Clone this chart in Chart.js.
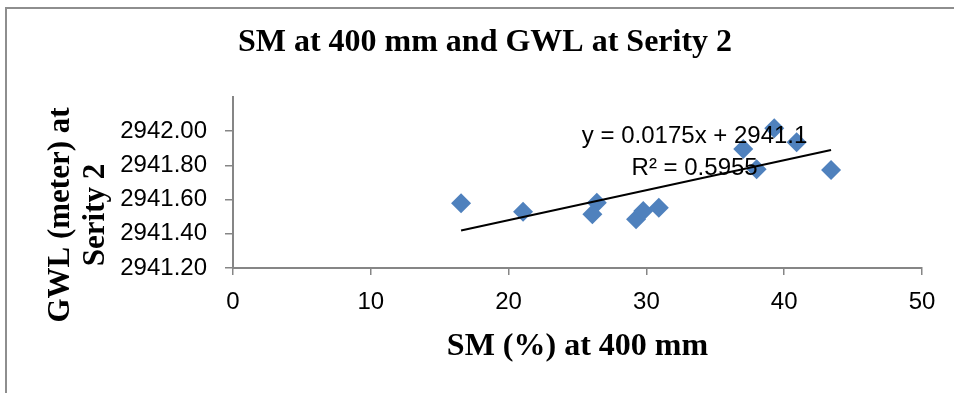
<!DOCTYPE html>
<html>
<head>
<meta charset="utf-8">
<script src="https://cdn.jsdelivr.net/npm/chart.js@4/dist/chart.umd.min.js"></script>
<style>
  html, body { margin: 0; padding: 0; background: #fff; }
  #wrap { width: 954px; height: 393px; }
</style>
</head>
<body>
<div id="wrap"><canvas id="c" width="954" height="393"></canvas></div>
<script>
// Soil moisture (%) at 400 mm depth
const smPercent = [16.55, 21.05, 26.4, 26.08, 29.25, 29.77, 30.9, 37.03, 38.0, 39.28, 40.9, 43.4];
// Groundwater level (m) at Serity 2
const gwlMeter = [2941.578, 2941.529, 2941.582, 2941.514, 2941.485, 2941.534, 2941.553, 2941.896, 2941.777, 2942.017, 2941.935, 2941.773];

// Linear trend fitted to the series
const trendSlope = 0.0175;
const trendIntercept = 2941.13;
const trendR2 = 0.5955;

const xTicks = [0, 10, 20, 30, 40, 50];
const yTicks = [2941.2, 2941.4, 2941.6, 2941.8, 2942.0];

const titleText = 'SM at 400 mm and GWL at Serity 2';
const xTitle = 'SM (%) at 400 mm';
const yTitle = ['GWL (meter) at', 'Serity 2'];

const scatterPoints = smPercent.map((x, i) => ({ x: x, y: gwlMeter[i] }));
const xMin = Math.min(...smPercent), xMax = Math.max(...smPercent);
const trendPoints = [xMin, xMax].map(x => ({ x: x, y: trendSlope * x + trendIntercept }));

const SERIF = '"Liberation Serif", "Times New Roman", serif';
const SANS = '"Liberation Sans", Arial, sans-serif';
const AXIS_GRAY = '#868686';

// Frame, titles and trendline equation drawn around the plot
const decorations = {
  id: 'decorations',
  beforeDraw(chart) {
    const ctx = chart.ctx;
    ctx.save();
    ctx.strokeStyle = '#8e8e8e';
    ctx.lineWidth = 2;
    ctx.beginPath();
    ctx.moveTo(6, 393);
    ctx.lineTo(6, 8);
    ctx.lineTo(954, 8);
    ctx.stroke();
    ctx.restore();
  },
  afterDraw(chart) {
    const ctx = chart.ctx;
    const area = chart.chartArea;
    const xs = chart.scales.x, ys = chart.scales.y;
    ctx.save();
    ctx.fillStyle = '#000';
    ctx.textBaseline = 'alphabetic';
    ctx.textAlign = 'center';

    // chart title
    ctx.font = 'bold 32px ' + SERIF;
    ctx.fillText(titleText, 485, 51);

    // x axis title
    ctx.fillText(xTitle, (area.left + area.right) / 2, 355);

    // y axis title (two rotated lines)
    ctx.font = 'bold 31px ' + SERIF;
    ctx.save();
    ctx.translate(0, 215);
    ctx.rotate(-Math.PI / 2);
    ctx.fillText(yTitle[0], 0, 69);
    ctx.fillText(yTitle[1], 0, 104);
    ctx.restore();

    // trendline equation
    ctx.font = '24px ' + SANS;
    const lx = xs.getPixelForValue(33.5);
    const ly = ys.getPixelForValue(2941.93);
    const eq = 'y = ' + trendSlope.toFixed(4) + 'x + ' + trendIntercept.toFixed(1);
    const r2 = 'R\u00B2 = ' + trendR2.toFixed(4);
    ctx.fillText(eq, lx, ly);
    ctx.fillText(r2, lx, ly + 32);
    ctx.restore();
  }
};

new Chart(document.getElementById('c'), {
  type: 'scatter',
  data: {
    datasets: [
      {
        label: 'Trend',
        type: 'line',
        data: trendPoints,
        borderColor: '#000',
        borderWidth: 2,
        pointRadius: 0,
        fill: false,
        order: 0
      },
      {
        label: 'GWL',
        data: scatterPoints,
        pointStyle: 'rectRot',
        pointRadius: 10,
        pointHoverRadius: 10,
        backgroundColor: '#4F81BD',
        borderColor: '#4F81BD',
        borderWidth: 0,
        order: 1
      }
    ]
  },
  options: {
    responsive: false,
    animation: false,
    events: [],
    layout: { padding: { left: 0, right: 32, top: 97, bottom: 0 } },
    plugins: {
      legend: { display: false },
      title: { display: false },
      tooltip: { enabled: false }
    },
    scales: {
      x: {
        type: 'linear',
        min: 0,
        max: 50,
        afterBuildTicks: s => { s.ticks = xTicks.map(v => ({ value: v })); },
        afterFit: s => { s.height = 125; },
        grid: { drawOnChartArea: false, drawTicks: true, tickLength: 7, color: AXIS_GRAY, lineWidth: 1.5 },
        border: { display: true, color: AXIS_GRAY, width: 2 },
        ticks: { font: { family: SANS, size: 24 }, color: '#000', padding: 13, maxRotation: 0 }
      },
      y: {
        type: 'linear',
        min: 2941.2,
        max: 2942.2,
        afterBuildTicks: s => { s.ticks = yTicks.map(v => ({ value: v })); },
        afterFit: s => { s.width = 233; },
        grid: { drawOnChartArea: false, drawTicks: true, tickLength: 8, color: AXIS_GRAY, lineWidth: 1.5 },
        border: { display: true, color: AXIS_GRAY, width: 2 },
        ticks: {
          font: { family: SANS, size: 24 },
          color: '#000',
          padding: 18,
          callback: v => Number(v).toFixed(2)
        }
      }
    }
  },
  plugins: [decorations]
});
</script>
</body>
</html>
